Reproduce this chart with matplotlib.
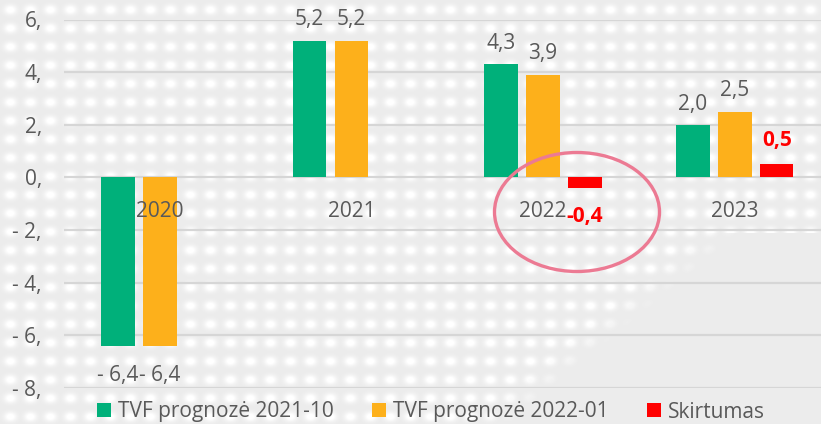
import numpy as np
import matplotlib
matplotlib.use("Agg")
import matplotlib.pyplot as plt
from matplotlib.patches import Patch, Ellipse

plt.rcParams['font.family'] = ['Open Sans', 'DejaVu Sans']

# ---- data ----
years = ["2020", "2021", "2022", "2023"]
tvf_2021_10 = [-6.4, 5.2, 4.3, 2.0]
tvf_2022_01 = [-6.4, 5.2, 3.9, 2.5]
skirtumas = [None, None, -0.4, 0.5]
series_names = ["TVF prognozė 2021-10", "TVF prognozė 2022-01", "Skirtumas"]
y_ticks = [-8, -6, -4, -2, 0, 2, 4, 6]
y_tick_labels = ["- 8,", "- 6,", "- 4,", "- 2,", "0,", "2,", "4,", "6,"]

GREEN = "#00B07A"
ORANGE = "#FDB01B"
RED = "#FF0000"
TXT = "#595959"
FS = 15

W, H = 821, 424
fig = plt.figure(figsize=(W / 100, H / 100), dpi=100)

# ---- dotted background (decorative) ----
yy, xx = np.mgrid[0:H, 0:W].astype(float)
sx, sy = 20.0, 18.5
dx = (xx % sx) - sx / 2
dy = (yy % sy) - sy / 2
blob = np.exp(-(dx ** 2) / (2 * 4.2 ** 2) - (dy ** 2) / (2 * 3.2 ** 2))
edge = np.where(yy > 232, 740 - (yy - 232) * 1.2, 2000)
mask = np.clip((edge - xx) / 40.0, 0, 1)
img = 236 + 19 * np.clip(blob * 1.3, 0, 1) * mask
img = np.clip(img, 0, 255) / 255.0
rgb = np.dstack([img, img, img])
fig.figimage(rgb[::-1], xo=0, yo=0, origin='lower', zorder=-10)

# ---- axes ----
left_px, top_px, bottom_px = 64, 19.5, 388
ax = fig.add_axes([left_px / W, (H - bottom_px) / H, 1 - left_px / W,
                   (bottom_px - top_px) / H])
ax.set_zorder(1)
ax.set_facecolor('none')
ax.patch.set_alpha(0)
ax.set_xlim(-0.5, 3.45)
ax.set_ylim(-8, 6)
for s in ax.spines.values():
    s.set_visible(False)
ax.set_yticks(y_ticks)
ax.set_yticklabels(y_tick_labels)
ax.tick_params(axis='y', length=0, pad=16, labelsize=FS, labelcolor=TXT)
ax.set_xticks([])
ax.grid(axis='y', color='#D6D6D6', linewidth=1.6, zorder=1)
ax.set_axisbelow(True)

x = np.arange(len(years))
bw = 0.175
step = 0.219

b1 = ax.bar(x - step, tvf_2021_10, bw, color=GREEN, zorder=3)
b2 = ax.bar(x, tvf_2022_01, bw, color=ORANGE, zorder=3)
sk_x = [xi + step for xi, v in zip(x, skirtumas) if v is not None]
sk_v = [v for v in skirtumas if v is not None]
b3 = ax.bar(sk_x, sk_v, bw, color=RED, zorder=3)

def fmt(v):
    s = f"{abs(v):.1f}".replace('.', ',')
    return ("- " + s) if v < 0 else s

for bars, vals in ((b1, tvf_2021_10), (b2, tvf_2022_01)):
    for r, v in zip(bars, vals):
        cx = r.get_x() + r.get_width() / 2
        if v >= 0:
            ax.annotate(fmt(v), (cx, v), xytext=(0, 11), textcoords='offset points',
                        ha='center', va='baseline', fontsize=FS, color=TXT)
        else:
            ax.annotate(fmt(v), (cx, v), xytext=(0, -14), textcoords='offset points',
                        ha='center', va='top', fontsize=FS, color=TXT)

for r, v in zip(b3, sk_v):
    cx = r.get_x() + r.get_width() / 2
    lab = f"{v:.1f}".replace('.', ',')
    if v >= 0:
        ax.annotate(lab, (cx, v), xytext=(0, 13), textcoords='offset points',
                    ha='center', va='baseline', fontsize=FS, color=RED, fontweight='bold')
    else:
        ax.annotate(lab, (cx, v), xytext=(0, -13), textcoords='offset points',
                    ha='center', va='top', fontsize=FS, color=RED, fontweight='bold')

for xi, yr in zip(x, years):
    ax.text(xi, -1.3, yr, ha='center', va='center', fontsize=FS, color=TXT, zorder=4)

# ---- highlight ellipse ----
ell = Ellipse((577 / W, 1 - 212 / H), 165 / W, 119 / H, transform=fig.transFigure,
              fill=False, edgecolor='#EC7A93', linewidth=2.4, zorder=5)
fig.add_artist(ell)

# ---- legend ----
handles = [Patch(facecolor=c, edgecolor='none') for c in (GREEN, ORANGE, RED)]
leg = fig.legend(handles, series_names, loc='center', bbox_to_anchor=(431 / W, 1 - 412 / H),
                 ncol=3, frameon=False, fontsize=FS, handlelength=0.65, handleheight=0.65,
                 handletextpad=0.35, columnspacing=1.85, labelcolor=TXT)

fig.savefig("out.png", dpi=100)
